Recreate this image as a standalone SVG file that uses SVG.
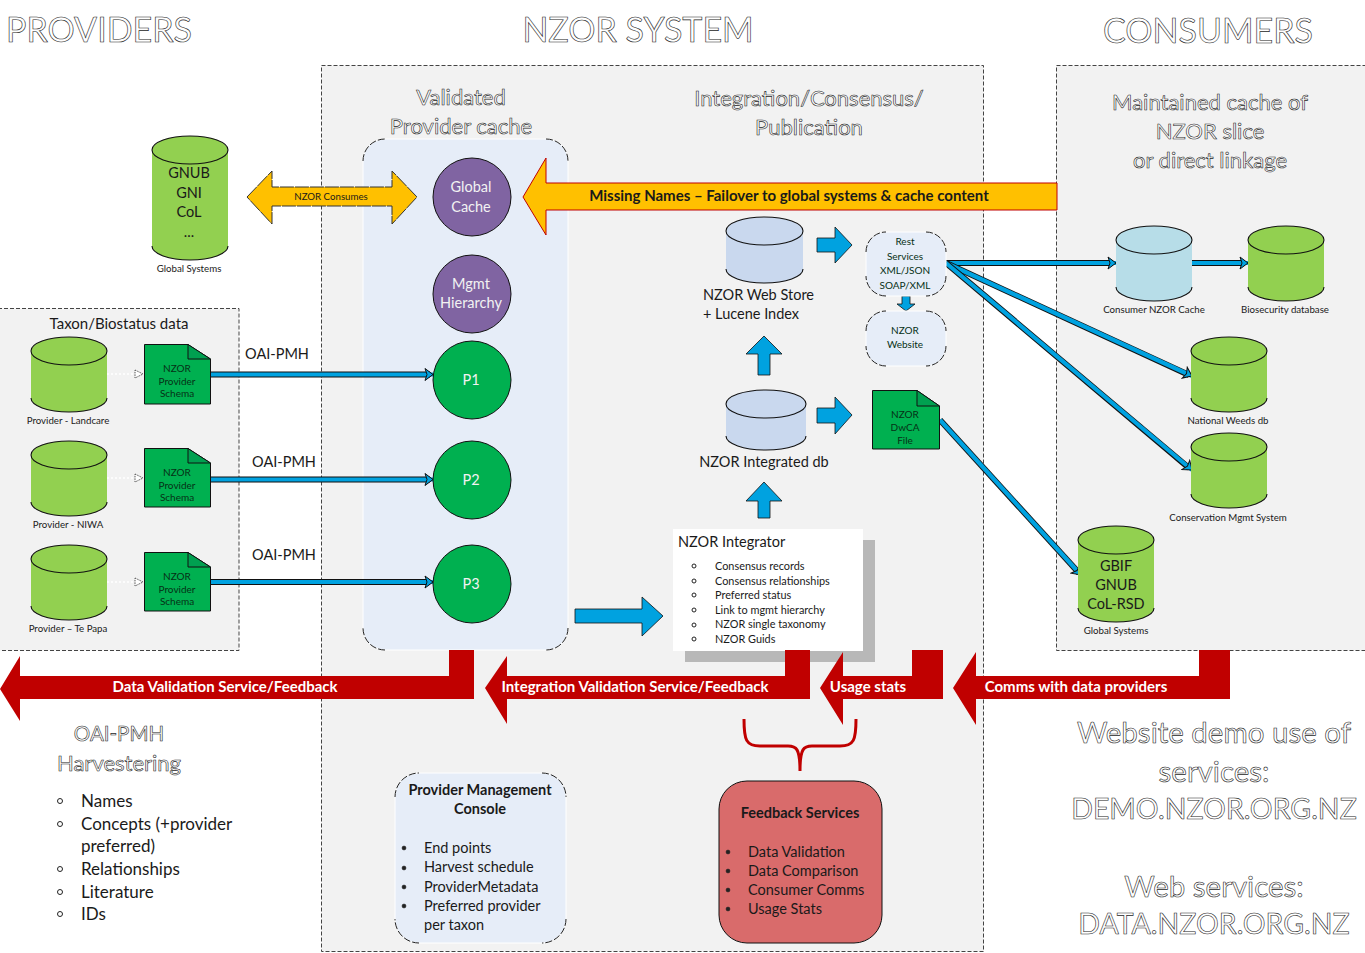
<svg xmlns="http://www.w3.org/2000/svg" width="1365" height="953" viewBox="0 0 1365 953">
<defs>
<marker id="bh" markerUnits="userSpaceOnUse" markerWidth="12" markerHeight="14" refX="9" refY="7" orient="auto"><path d="M1,1 L9,7 L1,13 L3,7 Z" fill="#00a2e0" stroke="#111" stroke-width="1"/></marker>
<marker id="wh" markerUnits="userSpaceOnUse" markerWidth="12" markerHeight="12" refX="10" refY="6" orient="auto"><path d="M2,2 L10,6 L2,10 Z" fill="#fff" stroke="#555" stroke-width="1" stroke-dasharray="1.5 1"/></marker>
</defs>
<style>
text{font-family:Lato,"Open Sans","Liberation Sans",sans-serif;fill:#1a1a1a;text-anchor:middle}
.ol{fill:#fff;stroke:#222;stroke-width:.6;opacity:.99}
.h1{font-size:34px}
.h2{font-size:22px}
.h3{font-size:29.500px}
.h4{font-size:28.500px}
.s{font-size:9.700px}
.m{font-size:14.500px}
.l{font-size:10.900px}
.n{font-size:10px;fill:#063016}
.st{text-anchor:start}
.panel{fill:#f2f2f2;stroke:#444;stroke-width:1;stroke-dasharray:4 2}
.cyl{fill:#92d050}
.blue{fill:#c9d8ee}
.cache{fill:#b7dde8}
.edge{fill:none;stroke:#111;stroke-width:1.1}
.pale{fill:#e6edf8;stroke:#fff;stroke-width:1}
.corner{fill:none;stroke:#222;stroke-width:1;stroke-dasharray:7 2}
.doc{fill:#00b050;stroke:#111;stroke-width:1}
.fold{fill:#00a050;stroke:#111;stroke-width:1}
.pc{fill:#00b050;stroke:#111;stroke-width:1}
.pu{fill:#8064a2;stroke:#111;stroke-width:1}
.w{fill:#f2f2f2;font-size:14.500px}
.ba{fill:#00a2e0;stroke:#111;stroke-width:.8}
.red{fill:#c00000}
.rt{fill:#fff;font-weight:bold;font-size:15px}
.ln0{stroke:#111;stroke-width:6;fill:none}
.ln1{stroke:#00a2e0;stroke-width:4.200;fill:none}
.dot{stroke:#fff;stroke-width:1.5;stroke-dasharray:2 2;fill:none}
.bul{fill:#222;stroke:#222;stroke-width:.5}
.hol{fill:#fff;stroke:#222;stroke-width:1}
</style>

<rect id="nzor-panel" class="panel" x="321.500" y="65.500" width="662" height="886"/>
<rect id="consumers-panel" class="panel" x="1056.500" y="65.500" width="312" height="585"/>
<rect id="providers-panel" class="panel" x="-2" y="308.500" width="241" height="342"/>

<text class="ol h1" x="99" y="42">PROVIDERS</text>
<text class="ol h1" x="638" y="42">NZOR SYSTEM</text>
<text class="ol h1" x="1208" y="43">CONSUMERS</text>

<text class="ol h2" x="461" y="105">Validated</text>
<text class="ol h2" x="461" y="134">Provider cache</text>
<text class="ol h2" x="809" y="106">Integration/Consensus/</text>
<text class="ol h2" x="809" y="135">Publication</text>
<text class="ol h2" x="1210" y="110">Maintained cache of</text>
<text class="ol h2" x="1210" y="139">NZOR slice</text>
<text class="ol h2" x="1210" y="168">or direct linkage</text>

<g id="validated-cache">
<rect class="pale" x="363" y="139" width="205" height="511" rx="22"/>
<path class="corner" d="M363,161 A22,22 0 0 1 385,139 M546,139 A22,22 0 0 1 568,161 M568,628 A22,22 0 0 1 546,650 M385,650 A22,22 0 0 1 363,628"/>
</g>

<g id="connectors">
<path class="dot" d="M107,374 H143" marker-end="url(#wh)"/>
<path class="dot" d="M107,478 H143" marker-end="url(#wh)"/>
<path class="dot" d="M107,582 H143" marker-end="url(#wh)"/>
<path class="ln0" d="M211,374.500 H430"/><path class="ln1" d="M211,374.500 H433" marker-end="url(#bh)"/>
<path class="ln0" d="M211,479.500 H430"/><path class="ln1" d="M211,479.500 H433" marker-end="url(#bh)"/>
<path class="ln0" d="M211,582 H430"/><path class="ln1" d="M211,582 H433" marker-end="url(#bh)"/>
<path class="ln0" d="M946,263 H1113"/><path class="ln1" d="M946,263 H1116" marker-end="url(#bh)"/>
<path class="ln0" d="M1192,263 H1245"/><path class="ln1" d="M1192,263 H1248" marker-end="url(#bh)"/>
<path class="ln0" d="M946,263 L1189,375"/><path class="ln1" d="M946,263 L1192,376" marker-end="url(#bh)"/>
<path class="ln0" d="M946,263 L1189,468"/><path class="ln1" d="M946,263 L1192,470" marker-end="url(#bh)"/>
<path class="ln0" d="M940,420 L1079,573"/><path class="ln1" d="M940,420 L1081,575" marker-end="url(#bh)"/>
</g>

<g id="orange-arrows">
<path fill="#ffc000" stroke="#333" stroke-width="1" stroke-dasharray="14 1" d="M247,197 L272,171 V187 H392 V171 L417,197 L392,224 V206 H272 V224 Z"/>
<text class="s" x="331" y="200">NZOR Consumes</text>
<path fill="#ffc000" stroke="#c00000" stroke-width="1" d="M523,197 L546,158 V183 H1057 V210 H546 V235 Z"/>
<text x="789" y="201" font-size="15" font-weight="bold">Missing Names – Failover to global systems &amp; cache content</text>
</g>

<g id="global-systems"><path class="cyl" d="M152,150 A38,14 0 0 1 228,150 V246 A38,14 0 0 1 152,246 Z"/><ellipse class="edge" cx="190" cy="150" rx="38" ry="14"/><path class="edge" d="M152,246 A38,14 0 0 0 228,246"/>
<text class="m" x="189" y="178">GNUB</text><text class="m" x="189" y="198">GNI</text><text class="m" x="189" y="217">CoL</text><text class="m" x="189" y="237">...</text><text class="s" x="189" y="272">Global Systems</text></g>

<g id="global-cache"><circle class="pu" cx="472" cy="197" r="39"/><text class="w" x="471" y="192">Global</text><text class="w" x="471" y="212">Cache</text></g>
<g id="mgmt-hierarchy"><circle class="pu" cx="472" cy="294" r="39"/><text class="w" x="471" y="289">Mgmt</text><text class="w" x="471" y="308">Hierarchy</text></g>
<g id="p1"><circle class="pc" cx="472" cy="380" r="39"/><text class="w" x="471" y="385">P1</text></g>
<g id="p2"><circle class="pc" cx="472" cy="480" r="39"/><text class="w" x="471" y="485">P2</text></g>
<g id="p3"><circle class="pc" cx="472" cy="584" r="39"/><text class="w" x="471" y="589">P3</text></g>

<text x="119" y="329" font-size="15">Taxon/Biostatus data</text>

<g id="provider-landcare"><path class="cyl" d="M31,351 A38,14 0 0 1 107,351 V398 A38,14 0 0 1 31,398 Z"/><ellipse class="edge" cx="69" cy="351" rx="38" ry="14"/><path class="edge" d="M31,398 A38,14 0 0 0 107,398"/><text class="s" x="68" y="424">Provider - Landcare</text></g>
<g id="provider-niwa"><path class="cyl" d="M31,455 A38,14 0 0 1 107,455 V502 A38,14 0 0 1 31,502 Z"/><ellipse class="edge" cx="69" cy="455" rx="38" ry="14"/><path class="edge" d="M31,502 A38,14 0 0 0 107,502"/><text class="s" x="68" y="528">Provider - NIWA</text></g>
<g id="provider-tepapa"><path class="cyl" d="M31,559 A38,14 0 0 1 107,559 V606 A38,14 0 0 1 31,606 Z"/><ellipse class="edge" cx="69" cy="559" rx="38" ry="14"/><path class="edge" d="M31,606 A38,14 0 0 0 107,606"/><text class="s" x="68" y="632">Provider – Te Papa</text></g>

<g id="schema-1"><path class="doc" d="M144.500,344.500 H188 L210.500,359 V404 H144.500 Z"/><path class="fold" d="M188,344.500 V359 H210.500 Z"/><text class="n" x="177" y="372">NZOR</text><text class="n" x="177" y="385">Provider</text><text class="n" x="177" y="397">Schema</text></g>
<g id="schema-2"><path class="doc" d="M144.500,448.500 H188 L210.500,463 V507 H144.500 Z"/><path class="fold" d="M188,448.500 V463 H210.500 Z"/><text class="n" x="177" y="476">NZOR</text><text class="n" x="177" y="489">Provider</text><text class="n" x="177" y="501">Schema</text></g>
<g id="schema-3"><path class="doc" d="M144.500,552.500 H188 L210.500,567 V611 H144.500 Z"/><path class="fold" d="M188,552.500 V567 H210.500 Z"/><text class="n" x="177" y="580">NZOR</text><text class="n" x="177" y="593">Provider</text><text class="n" x="177" y="605">Schema</text></g>

<text class="m" x="277" y="359">OAI-PMH</text>
<text class="m" x="284" y="467">OAI-PMH</text>
<text class="m" x="284" y="560">OAI-PMH</text>

<g id="web-store"><path class="blue" d="M726,231 A38.500,14 0 0 1 803,231 V269 A38.500,14 0 0 1 726,269 Z"/><ellipse class="edge" cx="764.500" cy="231" rx="38.500" ry="14"/><path class="edge" d="M726,269 A38.500,14 0 0 0 803,269"/>
<text class="m st" x="703" y="300">NZOR Web Store</text><text class="m st" x="703" y="319">+ Lucene Index</text></g>
<g id="integrated-db"><path class="blue" d="M726,404 A40,14 0 0 1 806,404 V436 A40,14 0 0 1 726,436 Z"/><ellipse class="edge" cx="766" cy="404" rx="40" ry="14"/><path class="edge" d="M726,436 A40,14 0 0 0 806,436"/>
<text class="m" x="764" y="467">NZOR Integrated db</text></g>

<g id="flow-arrows">
<path class="ba" d="M817,238 H835 V227 L852,245 L835,263 V252 H817 Z"/>
<path class="ba" d="M817,408 H835 V397 L852,415 L835,434 V423 H817 Z"/>
<path class="ba" d="M758,375 V354 H746 L764,336 L782,354 H770 V375 Z"/>
<path class="ba" d="M758,518 V501 H746 L764,482 L782,501 H770 V518 Z"/>
<path class="ba" d="M902,296 H910 V304 H915 L906,311 L897,304 H902 Z"/>
<path class="ba" d="M575,609 H642 V597 L663,616 L642,636 V623 H575 Z"/>
</g>

<g id="rest-services"><rect class="pale" x="866" y="232" width="80" height="64" rx="20"/><path class="corner" d="M866,252 A20,20 0 0 1 886,232 M926,232 A20,20 0 0 1 946,252 M946,276 A20,20 0 0 1 926,296 M886,296 A20,20 0 0 1 866,276"/>
<text class="n" fill="#222" x="905" y="245">Rest</text><text class="n" x="905" y="260">Services</text><text class="n" x="905" y="274">XML/JSON</text><text class="n" x="905" y="289">SOAP/XML</text></g>
<g id="nzor-website"><rect class="pale" x="866" y="311" width="80" height="55" rx="20"/><path class="corner" d="M866,331 A20,20 0 0 1 886,311 M926,311 A20,20 0 0 1 946,331 M946,346 A20,20 0 0 1 926,366 M886,366 A20,20 0 0 1 866,346"/>
<text class="n" x="905" y="334">NZOR</text><text class="n" x="905" y="348">Website</text></g>
<g id="dwca"><path class="doc" d="M872.500,390.500 H917 L939.500,406 V449 H872.500 Z"/><path class="fold" d="M917,390.500 V406 H939.500 Z"/><text class="n" x="905" y="418">NZOR</text><text class="n" x="905" y="431">DwCA</text><text class="n" x="905" y="444">File</text></g>

<g id="integrator">
<rect x="685" y="540" width="190" height="122" fill="#b8b8b8"/>
<rect x="673" y="529" width="190" height="122" fill="#fff"/>
<text class="m st" x="678" y="547">NZOR Integrator</text>
<circle class="hol" cx="694" cy="566" r="2"/><text class="l st" x="715" y="570">Consensus records</text>
<circle class="hol" cx="694" cy="581" r="2"/><text class="l st" x="715" y="584.500">Consensus relationships</text>
<circle class="hol" cx="694" cy="595" r="2"/><text class="l st" x="715" y="599">Preferred status</text>
<circle class="hol" cx="694" cy="610" r="2"/><text class="l st" x="715" y="613.500">Link to mgmt hierarchy</text>
<circle class="hol" cx="694" cy="625" r="2"/><text class="l st" x="715" y="628">NZOR single taxonomy</text>
<circle class="hol" cx="694" cy="639" r="2"/><text class="l st" x="715" y="643">NZOR Guids</text>
</g>

<g id="red-arrows">
<path class="red" d="M0,689 L20,656 V676 H449 V650 H474 V699 H20 V721 Z"/>
<path class="red" d="M485,688 L507,656 V676 H785 V650 H810 V699 H507 V724 Z"/>
<path class="red" d="M820,688 L843,652 V676 H912 V650 H943 V699 H843 V725 Z"/>
<path class="red" d="M953,688 L976,652 V676 H1199 V650 H1230 V699 H976 V725 Z"/>
<text class="rt" x="225" y="692">Data Validation Service/Feedback</text>
<text class="rt" x="635" y="692">Integration Validation Service/Feedback</text>
<text class="rt" x="868" y="692">Usage stats</text>
<text class="rt" x="1076" y="692">Comms with data providers</text>
<path fill="none" stroke="#c00000" stroke-width="3" d="M744,719 C744,740 746,746 760,746 H788 C796,746 800,748 800,771 C800,748 804,746 812,746 H840 C854,746 856,740 856,719"/>
</g>

<g id="consumer-cache"><path class="cache" d="M1116,240 A38,14 0 0 1 1192,240 V287 A38,14 0 0 1 1116,287 Z"/><ellipse class="edge" cx="1154" cy="240" rx="38" ry="14"/><path class="edge" d="M1116,287 A38,14 0 0 0 1192,287"/><text class="s" x="1154" y="313">Consumer NZOR Cache</text></g>
<g id="biosecurity"><path class="cyl" d="M1248,240 A38,14 0 0 1 1324,240 V287 A38,14 0 0 1 1248,287 Z"/><ellipse class="edge" cx="1286" cy="240" rx="38" ry="14"/><path class="edge" d="M1248,287 A38,14 0 0 0 1324,287"/><text class="s" x="1285" y="313">Biosecurity database</text></g>
<g id="weeds"><path class="cyl" d="M1191,351 A38,14 0 0 1 1267,351 V398 A38,14 0 0 1 1191,398 Z"/><ellipse class="edge" cx="1229" cy="351" rx="38" ry="14"/><path class="edge" d="M1191,398 A38,14 0 0 0 1267,398"/><text class="s" x="1228" y="424">National Weeds db</text></g>
<g id="conservation"><path class="cyl" d="M1191,447 A38,14 0 0 1 1267,447 V494 A38,14 0 0 1 1191,494 Z"/><ellipse class="edge" cx="1229" cy="447" rx="38" ry="14"/><path class="edge" d="M1191,494 A38,14 0 0 0 1267,494"/><text class="s" x="1228" y="521">Conservation Mgmt System</text></g>
<g id="gbif"><path class="cyl" d="M1078,540 A38,14 0 0 1 1154,540 V608 A38,14 0 0 1 1078,608 Z"/><ellipse class="edge" cx="1116" cy="540" rx="38" ry="14"/><path class="edge" d="M1078,608 A38,14 0 0 0 1154,608"/><text class="m" x="1116" y="571">GBIF</text><text class="m" x="1116" y="590">GNUB</text><text class="m" x="1116" y="609">CoL-RSD</text><text class="s" x="1116" y="634">Global Systems</text></g>

<g id="console"><rect class="pale" x="395" y="773" width="171" height="170" rx="24"/><path class="corner" d="M395,797 A24,24 0 0 1 419,773 M542,773 A24,24 0 0 1 566,797 M566,919 A24,24 0 0 1 542,943 M419,943 A24,24 0 0 1 395,919"/>
<text class="m" font-weight="bold" x="480" y="795">Provider Management</text><text class="m" font-weight="bold" x="480" y="814">Console</text>
<circle class="bul" cx="404" cy="848" r="2"/><text class="m st" x="424" y="853">End points</text>
<circle class="bul" cx="404" cy="868" r="2"/><text class="m st" x="424" y="872">Harvest schedule</text>
<circle class="bul" cx="404" cy="887" r="2"/><text class="m st" x="424" y="892">ProviderMetadata</text>
<circle class="bul" cx="404" cy="906" r="2"/><text class="m st" x="424" y="911">Preferred provider</text>
<text class="m st" x="424" y="930">per taxon</text></g>

<g id="feedback"><rect x="719" y="781" width="163" height="162" rx="28" fill="#d96b6b" stroke="#111"/>
<text class="m" font-weight="bold" x="800" y="818">Feedback Services</text>
<circle class="bul" cx="728" cy="852" r="2"/><text class="m st" x="748" y="857">Data Validation</text>
<circle class="bul" cx="728" cy="871" r="2"/><text class="m st" x="748" y="876">Data Comparison</text>
<circle class="bul" cx="728" cy="890" r="2"/><text class="m st" x="748" y="895">Consumer Comms</text>
<circle class="bul" cx="728" cy="909" r="2"/><text class="m st" x="748" y="914">Usage Stats</text></g>

<g id="oai-text">
<text class="ol" font-size="20.500" x="119" y="741">OAI-PMH</text>
<text class="ol" font-size="22" x="119" y="771">Harvestering</text>
<circle class="hol" cx="60" cy="801" r="2.500"/><text class="st" font-size="17" x="81" y="807">Names</text>
<circle class="hol" cx="60" cy="824" r="2.500"/><text class="st" font-size="17" x="81" y="830">Concepts (+provider</text>
<text class="st" font-size="17" x="81" y="852">preferred)</text>
<circle class="hol" cx="60" cy="869" r="2.500"/><text class="st" font-size="17" x="81" y="875">Relationships</text>
<circle class="hol" cx="60" cy="892" r="2.500"/><text class="st" font-size="17" x="81" y="898">Literature</text>
<circle class="hol" cx="60" cy="914" r="2.500"/><text class="st" font-size="17" x="81" y="920">IDs</text>
</g>

<g id="website-text">
<text class="ol h3" x="1214" y="743">Website demo use of</text>
<text class="ol h3" x="1214" y="782">services:</text>
<text class="ol h4" x="1214" y="819">DEMO.NZOR.ORG.NZ</text>
<text class="ol h3" x="1214" y="897">Web services:</text>
<text class="ol h4" x="1214" y="934">DATA.NZOR.ORG.NZ</text>
</g>
</svg>
